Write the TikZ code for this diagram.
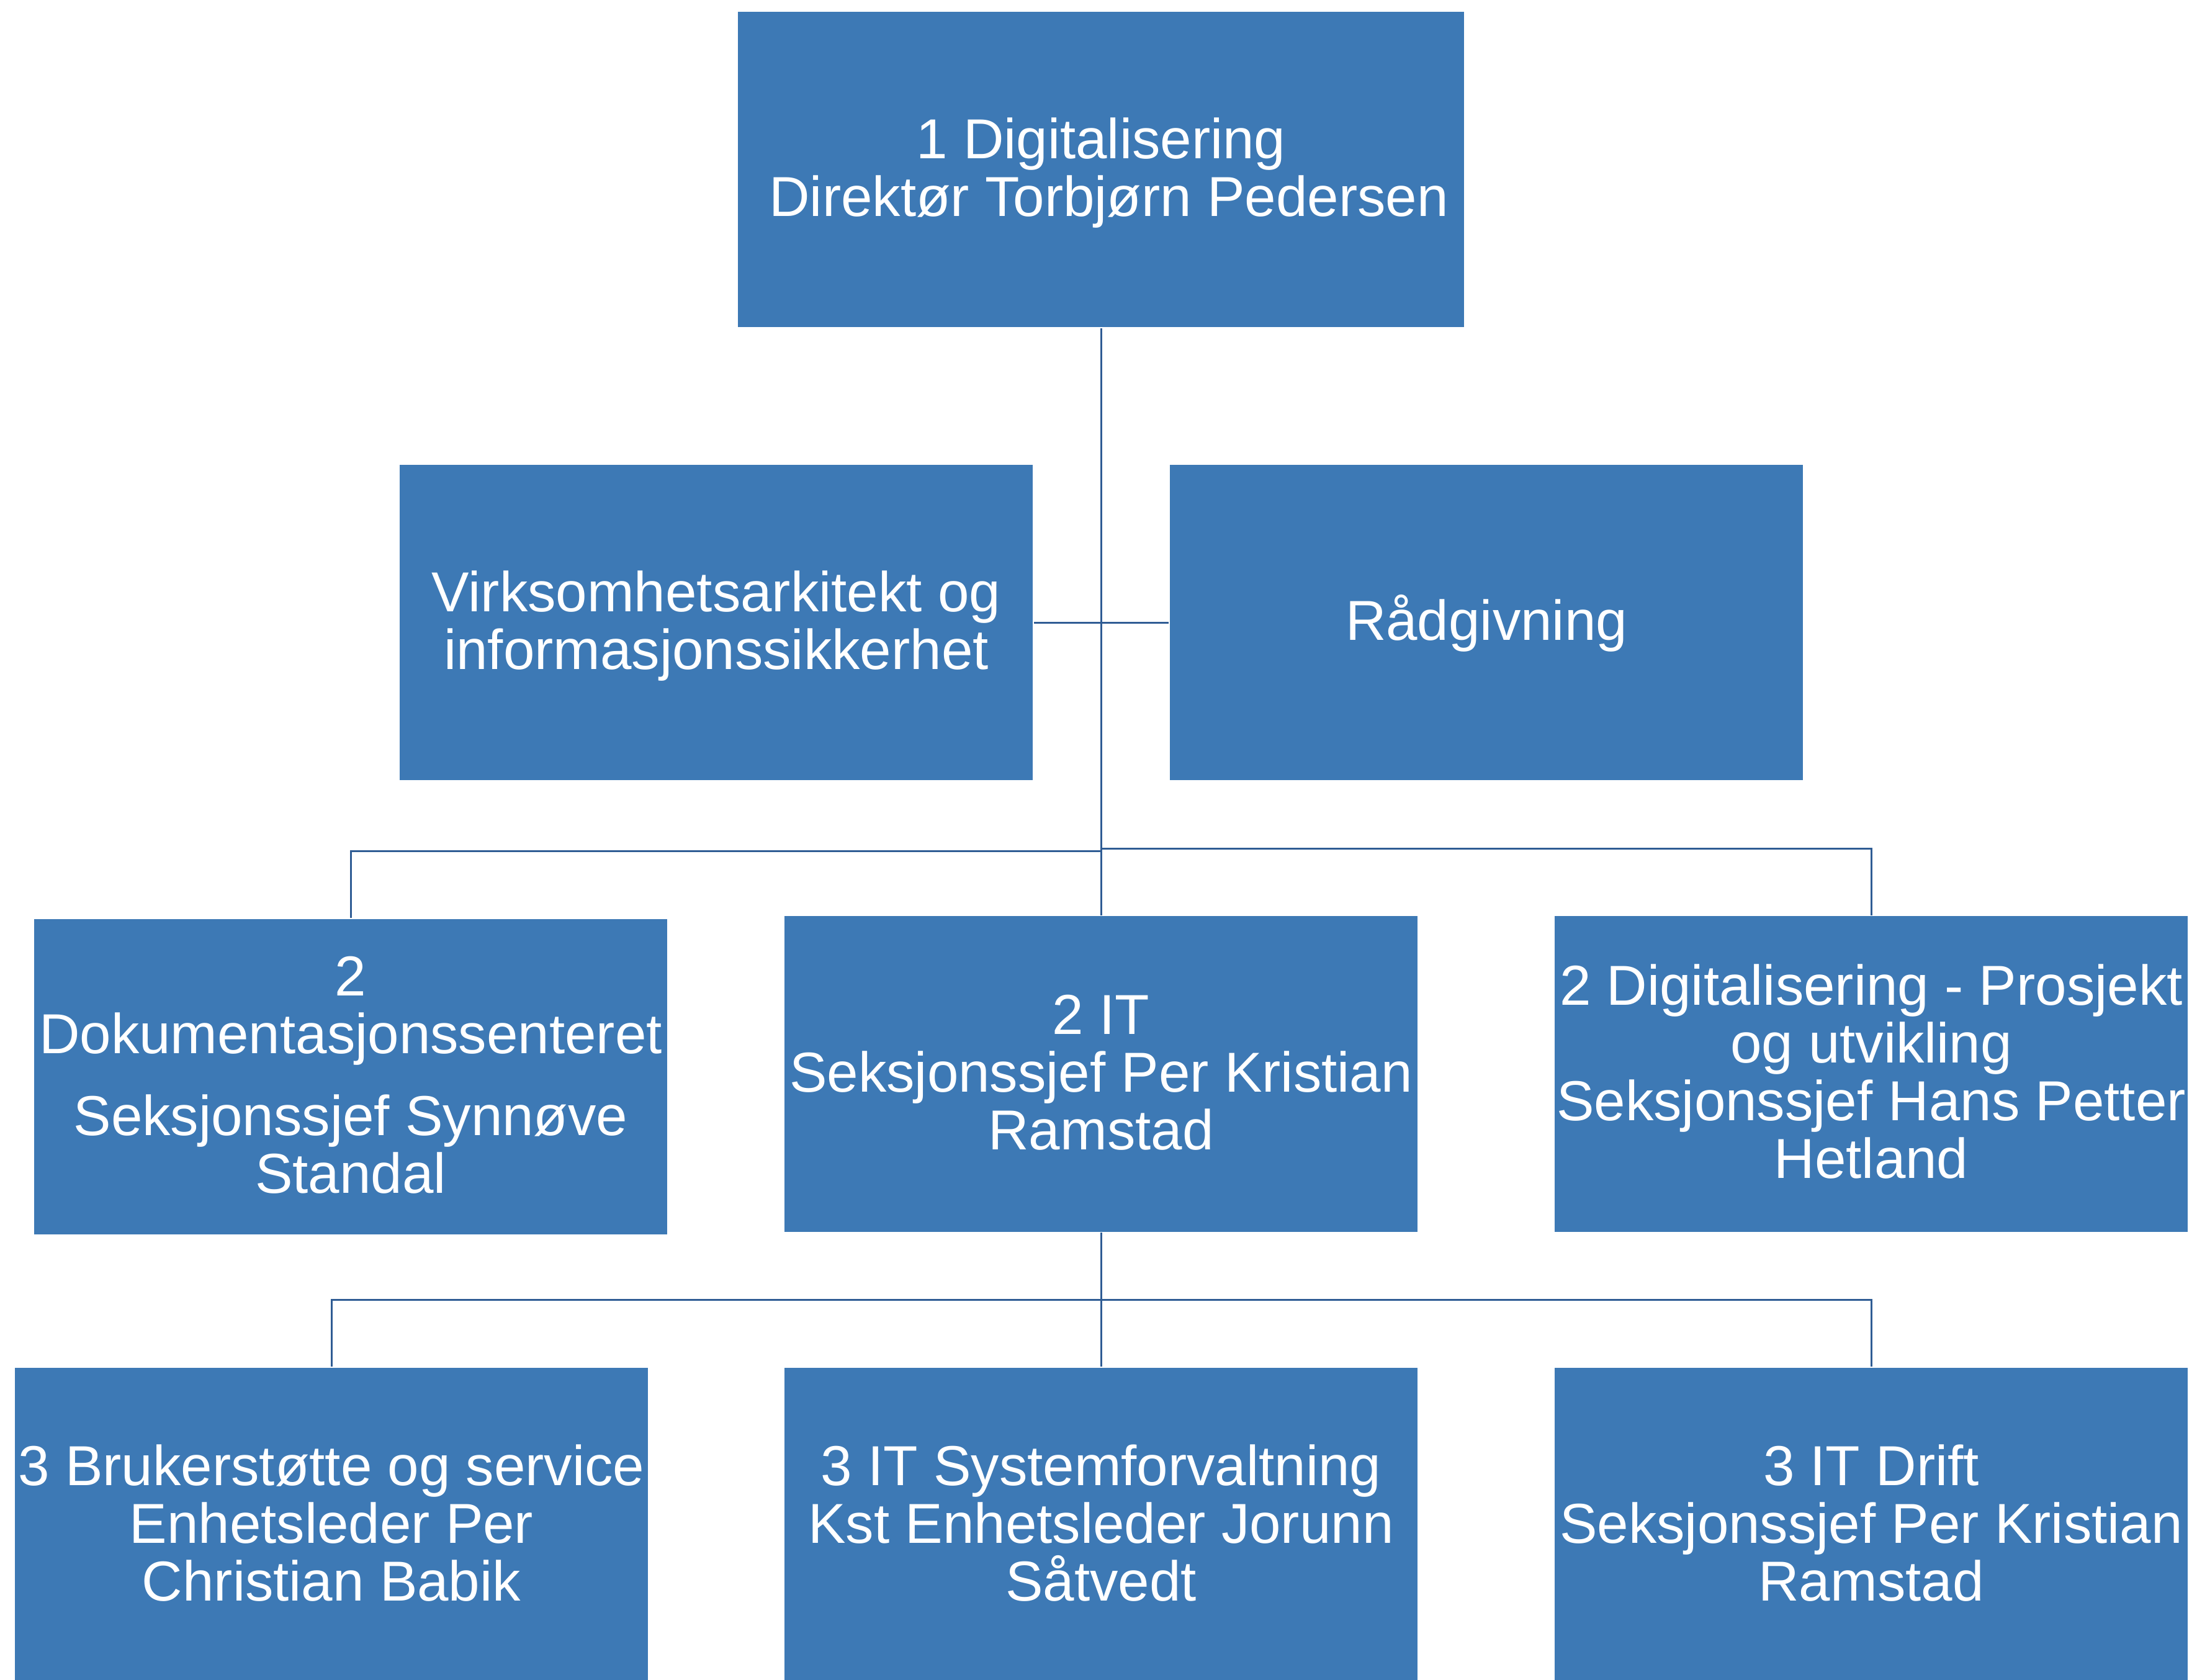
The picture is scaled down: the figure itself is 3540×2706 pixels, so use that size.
\documentclass[tikz,border=0pt]{standalone}
\usepackage{fontspec}
\setmainfont{Liberation Sans}
\definecolor{boxblue}{RGB}{61,121,181}
\definecolor{lineblue}{RGB}{47,92,148}
\newcommand\ftop{\rule{0pt}{0.86em}}
\newcommand\fbot{\rule[-0.23em]{0pt}{0pt}}
\begin{document}
\begin{tikzpicture}[x=0.2pt,y=-0.2pt,
  orgbox/.style={rectangle, fill=boxblue, draw=white, line width=0.3pt,
    text=white, align=center, inner sep=0pt,
    minimum width=204.4pt, minimum height=102pt,
    font={\fontsize{18.15pt}{18.6pt}\selectfont}},
  conn/.style={draw=lineblue, line width=0.6pt}]
\useasboundingbox (0,0) rectangle (3540,2706);
\fill[white] (0,0) rectangle (3540,2706);

\node[orgbox, minimum width=234.2pt] (top) at (1774,273) {\ftop 1 Digitalisering\\\ Direktør Torbjørn Pedersen\fbot};
\node[orgbox] (virk) at (1154,1003) {\ftop Virksomhetsarkitekt og\\informasjonssikkerhet\fbot};
\node[orgbox] (rad) at (2395,1003) {\ftop Rådgivning\fbot};

\node[orgbox] (dok) at (565,1735) {\ftop 2\\Dokumentasjonssenteret\\[7.8pt]Seksjonssjef Synnøve\\Standal\fbot};
\node[orgbox] (it) at (1774,1730.5) {\ftop 2 IT\\Seksjonssjef Per Kristian\\Ramstad\fbot};
\node[orgbox] (dig) at (3015,1730.5) {\ftop 2 Digitalisering - Prosjekt\\og utvikling\\Seksjonssjef Hans Petter\\Hetland\fbot};

\node[orgbox] (bru) at (534,2458) {\ftop 3 Brukerstøtte og service\\Enhetsleder Per\\Christian Babik\fbot};
\node[orgbox] (sys) at (1774,2458) {\ftop 3 IT Systemforvaltning\\Kst Enhetsleder Jorunn\\Såtvedt\fbot};
\node[orgbox] (drift) at (3015,2458) {\ftop 3 IT Drift\\Seksjonssjef Per Kristian\\Ramstad\fbot};

\coordinate (jl) at (1774,1371);
\coordinate (jr) at (1774,1367);
\coordinate (j2) at (1774,2094);

\draw[conn] (top.south) -- (it.north);
\draw[conn] (virk.east) -- (rad.west);
\draw[conn] (dok.north) |- (jl);
\draw[conn] (dig.north) |- (jr);
\draw[conn] (it.south) -- (sys.north);
\draw[conn] (bru.north) |- (j2) -| (drift.north);
\end{tikzpicture}
\end{document}
